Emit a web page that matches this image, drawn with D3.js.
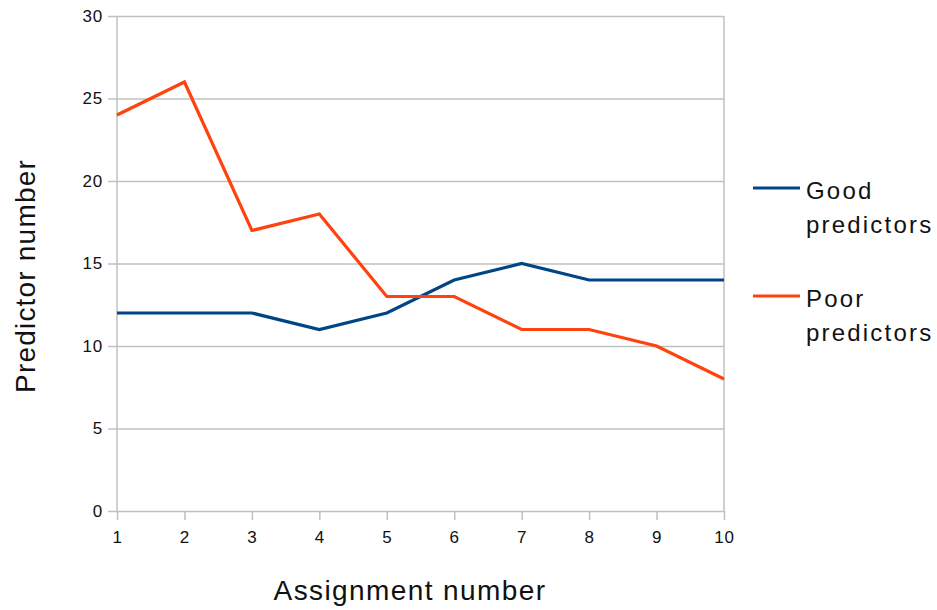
<!DOCTYPE html>
<html><head><meta charset="utf-8">
<script src="https://cdn.jsdelivr.net/npm/d3@7"></script>
<style>body{margin:0;background:#fff}svg{display:block}text{font-family:"Liberation Sans",Arial,sans-serif}</style>
</head><body><svg id="c" width="937" height="610"></svg>
<script>
const assignments = [1,2,3,4,5,6,7,8,9,10];
const goodPredictors = [12,12,12,11,12,14,15,14,14,14];
const poorPredictors = [24,26,17,18,13,13,11,11,10,8];
const yTicks = [0,5,10,15,20,25,30];
const seriesNames = ["Good predictors","Poor predictors"];
const seriesColors = ["#004586","#ff420e"];

const svg = d3.select("#c");
const x = d3.scaleLinear().domain([1,10]).range([117,724]);
const y = d3.scaleLinear().domain([0,30]).range([511,16]);
const grid = "#c0c0c0";

// horizontal gridlines + y ticks
const yAxis = d3.axisLeft(y).tickValues(yTicks).tickSize(9).tickPadding(5).tickFormat(d3.format("d"));
const gy = svg.append("g").attr("transform","translate(117,0)").call(yAxis);
gy.select(".domain").remove();
gy.selectAll(".tick line").attr("stroke",grid).attr("stroke-width",1.5).attr("x2",724-117).attr("x1",-9);
gy.selectAll(".tick text").attr("font-size",17).attr("fill","#111").attr("letter-spacing",0.8);

// x ticks
const xAxis = d3.axisBottom(x).tickValues(assignments).tickSize(9).tickPadding(11).tickFormat(d3.format("d"));
const gx = svg.append("g").attr("transform","translate(0,511)").call(xAxis);
gx.select(".domain").remove();
gx.selectAll(".tick line").attr("stroke",grid).attr("stroke-width",1.5);
gx.selectAll(".tick text").attr("font-size",17).attr("fill","#111").attr("letter-spacing",0.8);

// left and right frame lines
svg.append("line").attr("x1",x(1)).attr("x2",x(1)).attr("y1",y(30)).attr("y2",y(0)).attr("stroke",grid).attr("stroke-width",1.5);
svg.append("line").attr("x1",x(10)).attr("x2",x(10)).attr("y1",y(30)).attr("y2",y(0)).attr("stroke",grid).attr("stroke-width",1.5);

const line = d3.line().x((d,i)=>x(assignments[i])).y(d=>y(d));
[goodPredictors, poorPredictors].forEach((s,k)=>{
  svg.append("path").datum(s).attr("d",line).attr("fill","none")
    .attr("stroke",seriesColors[k]).attr("stroke-width",3.2).attr("stroke-linejoin","miter");
});

// axis titles
svg.append("text").attr("x",410).attr("y",600).attr("text-anchor","middle")
  .attr("font-size",28).attr("letter-spacing",1.4).attr("fill","#111").text("Assignment number");
svg.append("text").attr("transform","translate(35,276) rotate(-90)").attr("text-anchor","middle")
  .attr("font-size",28).attr("letter-spacing",1.2).attr("fill","#111").text("Predictor number");

// legend
const legY = [188, 296];
seriesNames.forEach((n,k)=>{
  const g = svg.append("g");
  g.append("line").attr("x1",753).attr("x2",800).attr("y1",legY[k]).attr("y2",legY[k])
    .attr("stroke",seriesColors[k]).attr("stroke-width",3.2);
  const parts = n.split(" ");
  g.append("text").attr("x",806).attr("y",legY[k]+11).attr("font-size",24).attr("letter-spacing",2.2).attr("fill","#111").text(parts[0]);
  g.append("text").attr("x",806).attr("y",legY[k]+45).attr("font-size",24).attr("letter-spacing",2.2).attr("fill","#111").text(parts[1]);
});
</script></body></html>
